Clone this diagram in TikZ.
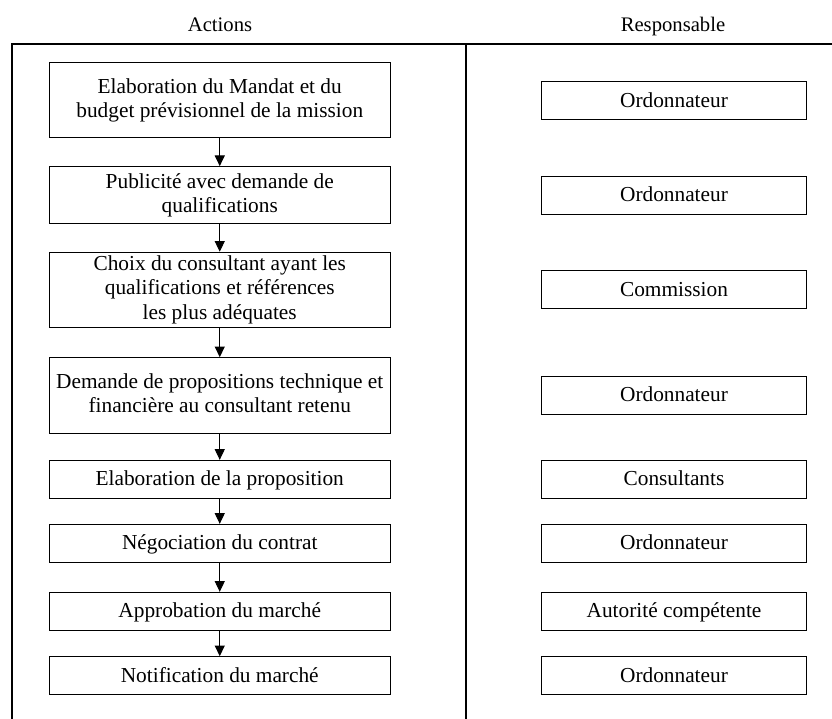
\documentclass[tikz,border=0pt]{standalone}
\usepackage{fontspec}
\setmainfont{Liberation Serif}
\usetikzlibrary{arrows.meta}

\tikzset{
  frame/.style={line width=1.5pt, line cap=rect},
  boxtext/.style={font=\fontsize{16}{18.5}\selectfont,
                  execute at begin node={\rule{0pt}{13.3pt}},
                  execute at end node={\rule[-3.5pt]{0pt}{3.5pt}}},
  stepbox/.style={draw, line width=0.75pt, rectangle, inner sep=0pt, align=center,
                  minimum width=255.4pt, boxtext},
  whobox/.style={draw, line width=0.75pt, rectangle, inner sep=0pt, align=center,
                 minimum width=199pt, minimum height=28.5pt, boxtext},
  header/.style={anchor=base, font=\fontsize{15.5}{18}\selectfont},
  flow/.style={line width=0.75pt, -{Triangle[length=8pt,width=7.5pt]}}
}

\begin{document}
\begin{tikzpicture}[x=0.75pt, y=-0.75pt]
  \useasboundingbox (0,0) rectangle (832,718);

  % column headings
  \node[header] (hact) at (220,31.5) {Actions};
  \node[header] (hresp) at (673,31.5) {Responsable};

  % table frame (open at the bottom and right)
  \draw[frame] (12,718) -- (12,43.5) -- (832,43.5);
  \draw[frame] (466,43.5) -- (466,718);

  % actions
  \node[stepbox, minimum height=56.5pt] (a1) at (219.75,100.3)
    {Elaboration du Mandat et du\\budget prévisionnel de la mission};
  \node[stepbox, minimum height=43pt] (a2) at (219.75,195.3)
    {Publicité avec demande de\\qualifications};
  \node[stepbox, minimum height=56.3pt] (a3) at (219.75,289.8)
    {Choix du consultant ayant les\\qualifications et références\\les plus adéquates};
  \node[stepbox, minimum height=56.7pt] (a4) at (219.75,395.5)
    {Demande de propositions technique et\\financière au consultant retenu};
  \node[stepbox, minimum height=28.3pt] (a5) at (219.75,479.2)
    {Elaboration de la proposition};
  \node[stepbox, minimum height=28.3pt] (a6) at (219.75,543.2)
    {Négociation du contrat};
  \node[stepbox, minimum height=28.5pt] (a7) at (219.75,611.3)
    {Approbation du marché};
  \node[stepbox, minimum height=28.5pt] (a8) at (219.75,675.7)
    {Notification du marché};

  % flow between actions
  \foreach \i/\j in {a1/a2,a2/a3,a3/a4,a4/a5,a5/a6,a6/a7,a7/a8}
    \draw[flow] (\i) -- (\j);

  % responsible parties
  \node[whobox] (r1) at (674,100.5) {Ordonnateur};
  \node[whobox] (r2) at (674,195)   {Ordonnateur};
  \node[whobox] (r3) at (674,289.7) {Commission};
  \node[whobox] (r4) at (674,395.3) {Ordonnateur};
  \node[whobox] (r5) at (674,479)   {Consultants};
  \node[whobox] (r6) at (674,543)   {Ordonnateur};
  \node[whobox] (r7) at (674,611.3) {Autorité compétente};
  \node[whobox] (r8) at (674,675.7) {Ordonnateur};
\end{tikzpicture}
\end{document}
